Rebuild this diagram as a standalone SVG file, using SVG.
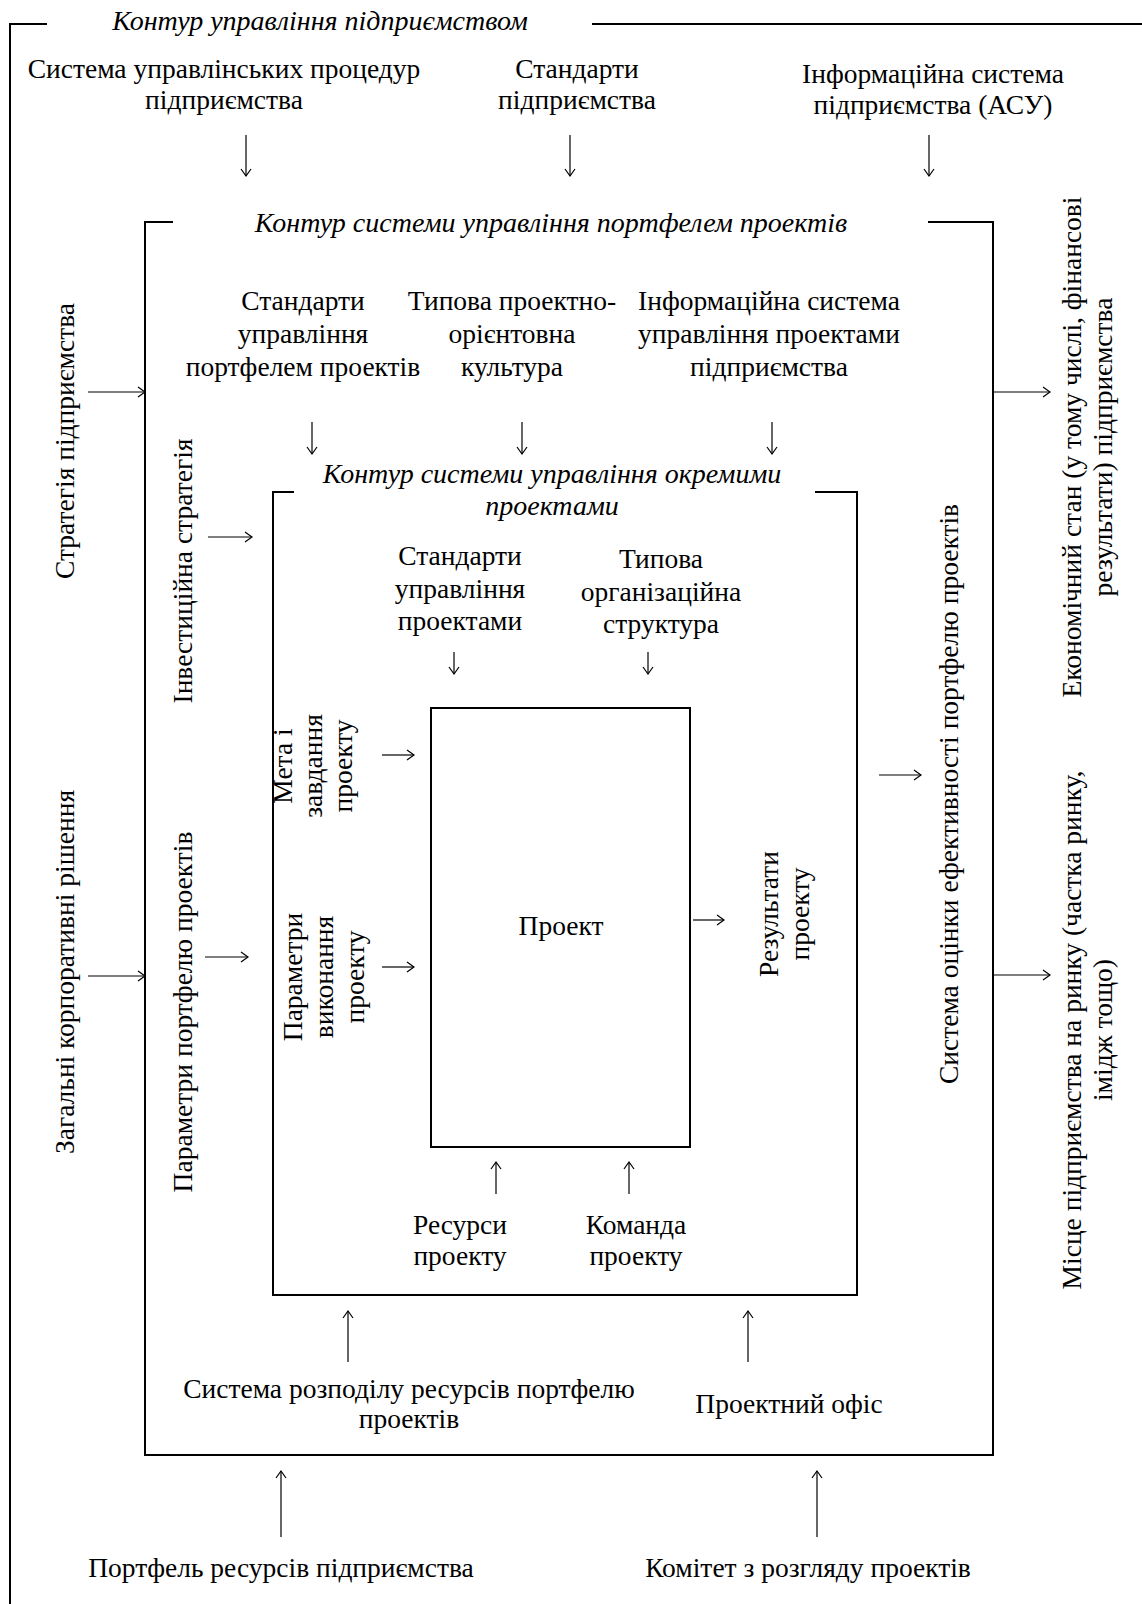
<svg xmlns="http://www.w3.org/2000/svg" width="1142" height="1604" viewBox="0 0 1142 1604">
<style>
text{font-family:"Liberation Serif","Times New Roman",serif;font-size:27.5px;fill:#000;text-anchor:middle}
.it{font-style:italic;font-size:28px}
.frame{fill:none;stroke:#000;stroke-width:2}
.arr{stroke:#000;stroke-width:1.2;fill:none;marker-end:url(#ah)}
</style>
<defs>
<marker id="ah" markerUnits="userSpaceOnUse" markerWidth="12" markerHeight="12" refX="9" refY="6" orient="auto">
<path d="M2,1 L9,6 L2,11" fill="none" stroke="#000" stroke-width="1.2"/>
</marker>
</defs>
<rect width="1142" height="1604" fill="#fff"/>

<g id="outer-frame">
<path class="frame" d="M47,24 H10 V1604"/>
<path class="frame" d="M592,24 H1142"/>
<text class="it" x="320" y="30">Контур управління підприємством</text>
</g>

<g id="middle-frame">
<path class="frame" d="M173,222 H145 V1455 H993 V222 H928"/>
<text class="it" x="551" y="232">Контур системи управління портфелем проектів</text>
</g>

<g id="inner-frame">
<path class="frame" d="M294,492 H273 V1295 H857 V492 H815"/>
<text class="it" x="552" y="483">Контур системи управління окремими<tspan x="552" dy="32">проектами</tspan></text>
</g>

<g id="project">
<rect class="frame" x="431" y="708" width="259" height="439"/>
<text x="561" y="935">Проект</text>
</g>

<g id="n-procedures"><text x="224" y="78">Система управлінських процедур<tspan x="224" dy="31">підприємства</tspan></text></g>
<g id="n-standards"><text x="577" y="78">Стандарти<tspan x="577" dy="31">підприємства</tspan></text></g>
<g id="n-asu"><text x="933" y="83">Інформаційна система<tspan x="933" dy="31">підприємства (АСУ)</tspan></text></g>

<g id="n-strategy"><text transform="translate(74,441) rotate(-90)">Стратегія підприємства</text></g>
<g id="n-corporate"><text transform="translate(74,972) rotate(-90)">Загальні корпоративні рішення</text></g>
<g id="n-economic"><text transform="translate(1081,447) rotate(-90)">Економічний стан (у тому числі, фінансові<tspan x="0" dy="31">результати) підприємства</tspan></text></g>
<g id="n-market"><text transform="translate(1081,1030) rotate(-90)">Місце підприємства на ринку (частка ринку,<tspan x="0" dy="31">імідж тощо)</tspan></text></g>

<g id="n-pf-standards"><text x="303" y="310">Стандарти<tspan x="303" dy="33">управління</tspan><tspan x="303" dy="33">портфелем проектів</tspan></text></g>
<g id="n-culture"><text x="512" y="310">Типова проектно-<tspan x="512" dy="33">орієнтовна</tspan><tspan x="512" dy="33">культура</tspan></text></g>
<g id="n-pm-is"><text x="769" y="310">Інформаційна система<tspan x="769" dy="33">управління проектами</tspan><tspan x="769" dy="33">підприємства</tspan></text></g>

<g id="n-invest"><text transform="translate(192,571) rotate(-90)">Інвестиційна стратегія</text></g>
<g id="n-pf-params"><text transform="translate(192,1012) rotate(-90)">Параметри портфелю проектів</text></g>
<g id="n-eval"><text transform="translate(958,794) rotate(-90)">Система оцінки ефективності портфелю проектів</text></g>

<g id="n-alloc"><text x="409" y="1398">Система розподілу ресурсів портфелю<tspan x="409" dy="30">проектів</tspan></text></g>
<g id="n-pmo"><text x="789" y="1413">Проектний офіс</text></g>

<g id="n-pm-standards"><text x="460" y="565">Стандарти<tspan x="460" dy="33">управління</tspan><tspan x="460" dy="32">проектами</tspan></text></g>
<g id="n-org"><text x="661" y="568">Типова<tspan x="661" dy="33">організаційна</tspan><tspan x="661" dy="32">структура</tspan></text></g>

<g id="n-goal"><text transform="translate(292,766) rotate(-90)">Мета і<tspan x="0" dy="30">завдання</tspan><tspan x="0" dy="30">проекту</tspan></text></g>
<g id="n-exec"><text transform="translate(302,977) rotate(-90)">Параметри<tspan x="0" dy="31">виконання</tspan><tspan x="0" dy="31">проекту</tspan></text></g>
<g id="n-results"><text transform="translate(778,914) rotate(-90)">Результати<tspan x="0" dy="31">проекту</tspan></text></g>

<g id="n-resources"><text x="460" y="1234">Ресурси<tspan x="460" dy="31">проекту</tspan></text></g>
<g id="n-team"><text x="636" y="1234">Команда<tspan x="636" dy="31">проекту</tspan></text></g>

<g id="n-res-portfolio"><text x="281" y="1577">Портфель ресурсів підприємства</text></g>
<g id="n-committee"><text x="808" y="1577">Комітет з розгляду проектів</text></g>

<g id="connectors">
<line class="arr" x1="246" y1="135" x2="246" y2="176"/>
<line class="arr" x1="570" y1="135" x2="570" y2="176"/>
<line class="arr" x1="929" y1="135" x2="929" y2="176"/>
<line class="arr" x1="88" y1="392" x2="145" y2="392"/>
<line class="arr" x1="88" y1="976" x2="145" y2="976"/>
<line class="arr" x1="993" y1="392" x2="1050" y2="392"/>
<line class="arr" x1="993" y1="975" x2="1050" y2="975"/>
<line class="arr" x1="312" y1="422" x2="312" y2="454"/>
<line class="arr" x1="522" y1="422" x2="522" y2="454"/>
<line class="arr" x1="772" y1="422" x2="772" y2="454"/>
<line class="arr" x1="208" y1="537" x2="252" y2="537"/>
<line class="arr" x1="205" y1="957" x2="248" y2="957"/>
<line class="arr" x1="879" y1="775" x2="921" y2="775"/>
<line class="arr" x1="454" y1="652" x2="454" y2="674"/>
<line class="arr" x1="648" y1="652" x2="648" y2="674"/>
<line class="arr" x1="382" y1="755" x2="414" y2="755"/>
<line class="arr" x1="382" y1="967" x2="414" y2="967"/>
<line class="arr" x1="693" y1="920" x2="724" y2="920"/>
<line class="arr" x1="496" y1="1194" x2="496" y2="1162"/>
<line class="arr" x1="629" y1="1194" x2="629" y2="1162"/>
<line class="arr" x1="348" y1="1362" x2="348" y2="1311"/>
<line class="arr" x1="748" y1="1362" x2="748" y2="1311"/>
<line class="arr" x1="281" y1="1537" x2="281" y2="1471"/>
<line class="arr" x1="817" y1="1537" x2="817" y2="1471"/>
</g>
</svg>
